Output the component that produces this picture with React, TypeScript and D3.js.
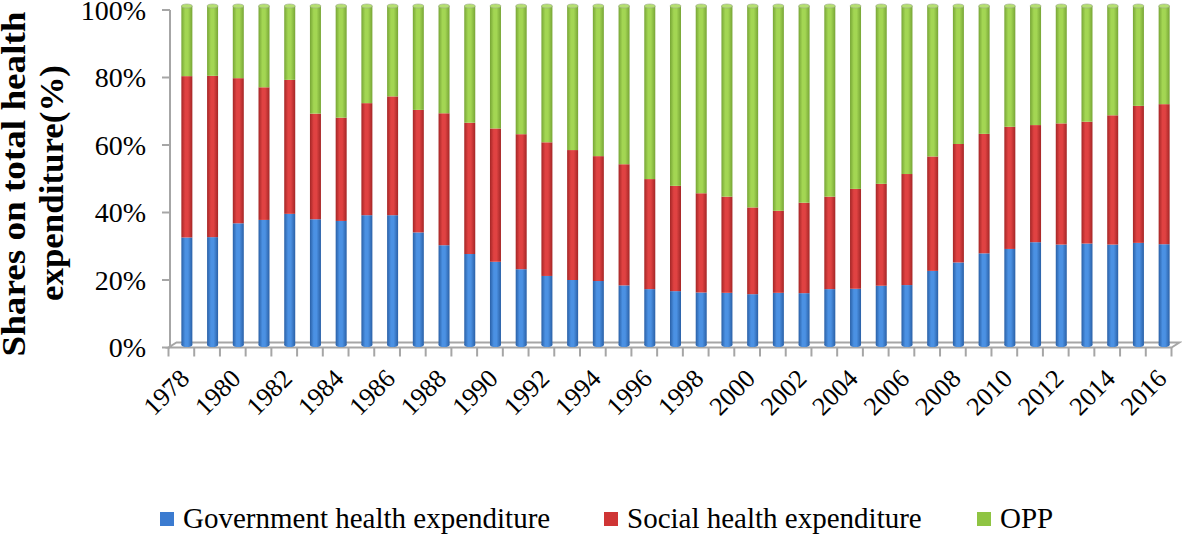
import React from "react";
import * as d3 from "d3";

const years = [
  1978, 1979, 1980, 1981, 1982, 1983, 1984, 1985, 1986, 1987, 1988, 1989, 1990,
  1991, 1992, 1993, 1994, 1995, 1996, 1997, 1998, 1999, 2000, 2001, 2002, 2003,
  2004, 2005, 2006, 2007, 2008, 2009, 2010, 2011, 2012, 2013, 2014, 2015, 2016,
];

const government = [
  32.6, 32.7, 36.8, 37.8, 39.6, 38.0, 37.5, 39.2, 39.2, 34.1, 30.3, 27.7, 25.4,
  23.2, 21.2, 20.0, 19.7, 18.4, 17.3, 16.7, 16.3, 16.2, 15.8, 16.2, 16.1, 17.3,
  17.4, 18.3, 18.5, 22.7, 25.2, 27.9, 29.2, 31.2, 30.5, 30.8, 30.5, 31.0, 30.6,
];

const social = [
  47.8, 47.8, 43.0, 39.3, 39.7, 31.3, 30.6, 33.2, 35.2, 36.3, 39.1, 38.9, 39.5,
  40.0, 39.6, 38.5, 37.0, 35.9, 32.6, 31.2, 29.4, 28.5, 25.7, 24.3, 26.8, 27.4,
  29.6, 30.2, 32.9, 33.9, 35.1, 35.4, 36.2, 34.7, 35.9, 36.1, 38.3, 40.6, 41.5,
];

const opp = [
  19.6, 19.5, 20.2, 22.9, 20.7, 30.7, 31.9, 27.6, 25.6, 29.6, 30.6, 33.4, 35.1,
  36.8, 39.2, 41.5, 43.3, 45.7, 50.1, 52.1, 54.3, 55.3, 58.5, 59.5, 57.1, 55.3,
  53.0, 51.5, 48.6, 43.4, 39.7, 36.7, 34.6, 34.1, 33.6, 33.1, 31.2, 28.4, 27.9,
];

const yTicks = [0, 20, 40, 60, 80, 100];
const xLabelYears = [
  1978, 1980, 1982, 1984, 1986, 1988, 1990, 1992, 1994, 1996, 1998, 2000, 2002,
  2004, 2006, 2008, 2010, 2012, 2014, 2016,
];

const seriesKeys = ["gov", "social", "opp"];
const seriesNames = [
  "Government health expenditure",
  "Social health expenditure",
  "OPP",
];
const seriesColors = [
  { edge: "#2a60a6", mid: "#4b91e3", solid: "#3b7bd0", cap: "#6aa6ea" },
  { edge: "#a42626", mid: "#e04242", solid: "#cf3535", cap: "#e86a6a" },
  { edge: "#77a536", mid: "#a3d653", solid: "#8fc443", cap: "#b5e070" },
];

const W = 1182;
const H = 534;
const FONT = "'Liberation Serif', 'Times New Roman', serif";

export default function App() {
  const rows = years.map((yr, i) => ({
    year: yr,
    gov: government[i],
    social: social[i],
    opp: opp[i],
  }));
  const stack = d3.stack<any>().keys(seriesKeys)(rows);

  const x = d3
    .scaleBand<number>()
    .domain(years)
    .range([168.5, 1171.5])
    .padding(0);
  const y = d3.scaleLinear().domain([0, 100]).range([347.5, 10]);

  const depthX = 5.5;
  const barW = 11;
  const bw = x.bandwidth();
  const cx = (yr: number) => (x(yr) as number) + bw / 2 + depthX;

  const floorFrontY = y(0);
  const floorBackY = y(0) - 5;
  const x0 = 168.5;
  const x1 = 1171.5;

  const legendX = [160, 604, 977];

  return (
    <>
      <style>{`body{margin:0;}`}</style>
      <svg
        width={W}
        height={H}
        style={{ position: "absolute", left: 0, top: 0, background: "#fff" }}
        fontFamily={FONT}
      >
        <defs>
          {seriesColors.map((c, i) => (
            <linearGradient key={i} id={`g${i}`} x1="0" x2="1" y1="0" y2="0">
              <stop offset="0" stopColor={c.edge} />
              <stop offset="0.35" stopColor={c.mid} />
              <stop offset="0.6" stopColor={c.mid} />
              <stop offset="1" stopColor={c.edge} />
            </linearGradient>
          ))}
        </defs>

        {/* floor */}
        <g stroke="#a6a6a6" strokeWidth={2} fill="none">
          <path
            d={`M${x0},${floorFrontY} L${x1},${floorFrontY} L${x1 + 8},${floorBackY} L${x0 + 8},${floorBackY} Z`}
          />
        </g>
        {/* x ticks */}
        <g stroke="#a6a6a6" strokeWidth={2}>
          {years.map((yr) => (
            <line
              key={yr}
              x1={x(yr)}
              x2={x(yr)}
              y1={floorFrontY}
              y2={floorFrontY + 9}
            />
          ))}
          <line x1={x1} x2={x1} y1={floorFrontY} y2={floorFrontY + 9} />
        </g>

        {/* y axis */}
        <g stroke="#a6a6a6" strokeWidth={2}>
          <line x1={170} x2={170} y1={y(100)} y2={y(0)} />
          {yTicks.map((t) => (
            <line key={t} x1={162} x2={170} y1={y(t)} y2={y(t)} />
          ))}
        </g>
        <g fontSize={28} textAnchor="end" fill="#000">
          {yTicks.map((t) => (
            <text key={t} x={146} y={y(t)} dy="0.35em">
              {t + "%"}
            </text>
          ))}
        </g>

        {/* bars */}
        {stack.map((s, si) => (
          <g key={s.key}>
            {s.map((d: any, i: number) => {
              const top = si === 2 ? y(100) - 4 : y(d[1]);
              const bot = si === 0 ? y(0) - 2.5 : y(d[0]);
              const c = cx(years[i]);
              return (
                <g key={i}>
                  <rect
                    x={c - barW / 2}
                    y={top}
                    width={barW}
                    height={Math.max(0, bot - top)}
                    fill={`url(#g${si})`}
                  />
                  {si === 0 && (
                    <ellipse
                      cx={c}
                      cy={bot}
                      rx={barW / 2}
                      ry={2}
                      fill={`url(#g${si})`}
                    />
                  )}
                  {si === 2 && (
                    <ellipse
                      cx={c}
                      cy={top}
                      rx={barW / 2}
                      ry={2}
                      fill={seriesColors[2].cap}
                      stroke="#9aa88a"
                      strokeWidth={0.6}
                    />
                  )}
                </g>
              );
            })}
          </g>
        ))}

        {/* x labels */}
        <g fontSize={26} textAnchor="end" fill="#000">
          {xLabelYears.map((yr) => (
            <text
              key={yr}
              transform={`translate(${cx(yr) + 4},${380}) rotate(-45)`}
            >
              {yr}
            </text>
          ))}
        </g>

        {/* y title */}
        <g fontSize={33} fontWeight="bold" textAnchor="middle" fill="#000">
          <text
            transform="rotate(-90)"
            x={-184}
            y={25}
            textLength={345}
            lengthAdjust="spacingAndGlyphs"
          >
            Shares on total health
          </text>
          <text
            transform="rotate(-90)"
            x={-183}
            y={63}
            textLength={236}
            lengthAdjust="spacingAndGlyphs"
          >
            expenditure(%)
          </text>
        </g>

        {/* legend */}
        <g fontSize={29} fill="#000">
          {legendX.map((lx, i) => (
            <g key={i}>
              <rect
                x={lx}
                y={512}
                width={14}
                height={14}
                fill={seriesColors[i].solid}
              />
              <text x={lx + 23} y={528}>
                {seriesNames[i]}
              </text>
            </g>
          ))}
        </g>
      </svg>
    </>
  );
}
